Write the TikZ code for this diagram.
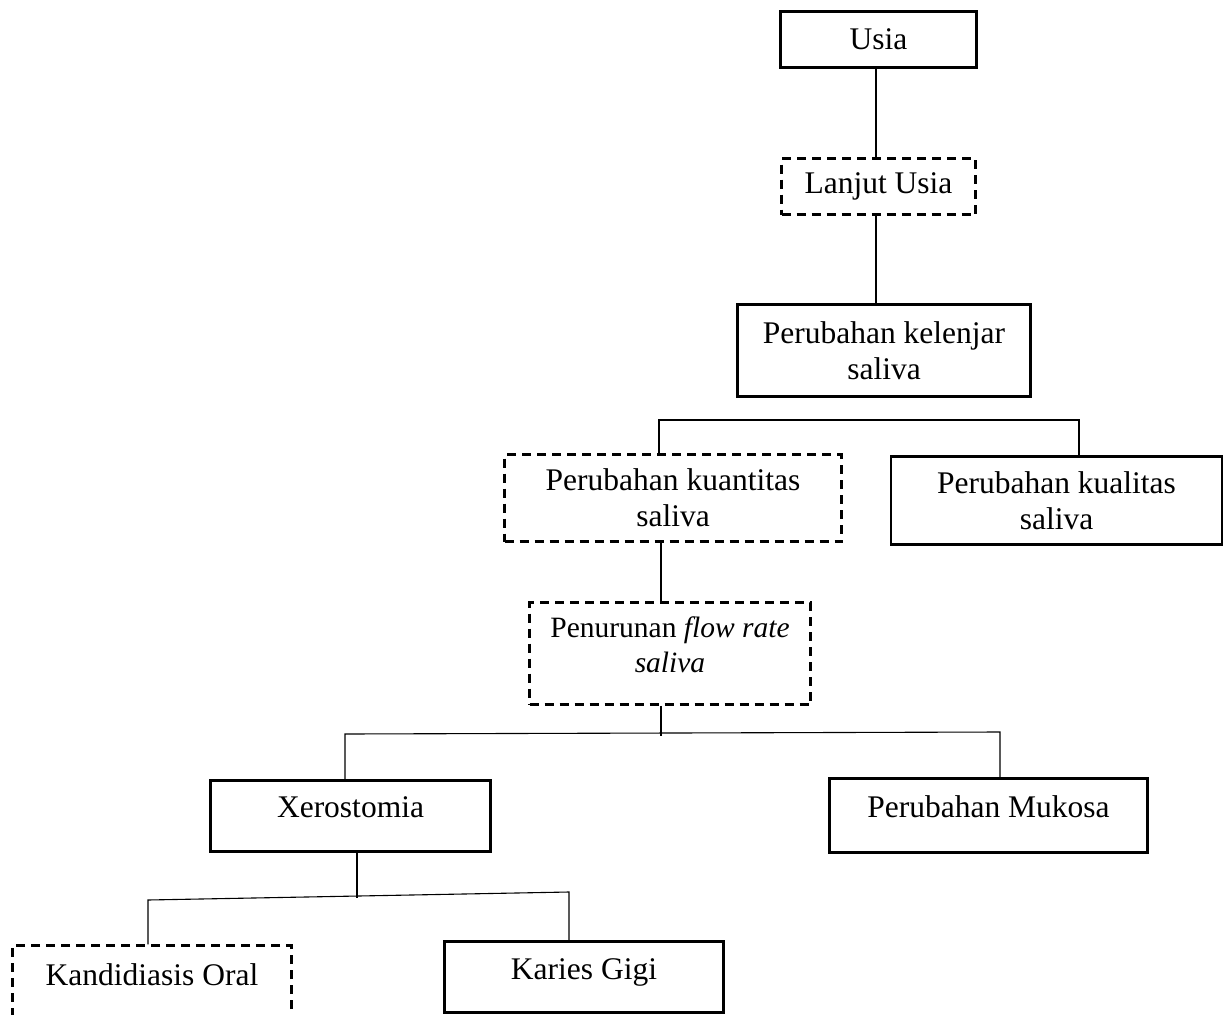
\documentclass[tikz,border=0pt]{standalone}
\usepackage{fontspec}
\setmainfont{Liberation Serif}
\begin{document}
\begin{tikzpicture}[x=1pt,y=-1pt,
  every node/.style={inner sep=0pt, align=center, font=\fontsize{31.5}{36}\selectfont},
  sbox/.style={draw, line width=2.8pt},
  dbox/.style={draw, line width=2.5pt, dash pattern=on 9pt off 6pt},
  conn/.style={line width=1.1pt}]
\useasboundingbox (0,0) rectangle (1224,1015);
\clip (0,0) rectangle (1224,1015);

% boxes
\node[sbox, minimum width=196pt, minimum height=56pt] (usia) at (878.5,39.5) {Usia};
\node[dbox, minimum width=194pt, minimum height=56pt] (lanjut) at (878.5,186.5) {Lanjut Usia};
\node[sbox, minimum width=293pt, minimum height=92pt] (kelenjar) at (884,350.5) {Perubahan kelenjar\\saliva};
\node[dbox, minimum width=337pt, minimum height=87pt] (kuantitas) at (673,498) {Perubahan kuantitas\\saliva};
\node[sbox, minimum width=331pt, minimum height=88pt] (kualitas) at (1056.5,500.5) {Perubahan kualitas\\saliva};
\node[dbox, minimum width=281pt, minimum height=102pt, text depth=18pt,
      font=\fontsize{29.5}{35}\selectfont] (penurunan) at (670,653.5) {Penurunan \textit{flow rate}\\\textit{saliva}};
\node[sbox, minimum width=280pt, minimum height=71pt, text depth=17.5pt] (xero) at (350.5,816) {Xerostomia};
\node[sbox, minimum width=318pt, minimum height=74pt, text depth=18.5pt] (mukosa) at (988.5,815.5) {Perubahan Mukosa};
\node[dbox, minimum width=279pt, text height=39.5pt, text depth=60pt, anchor=base] (kand) at (152,985) {Kandidiasis Oral};
\node[sbox, minimum width=279pt, minimum height=71pt, text depth=15.5pt] (karies) at (584,977) {Karies Gigi};

% junction coordinates
\coordinate (a1) at (876,0);
\coordinate (b1) at (659,420);
\coordinate (b2) at (1079,420);
\coordinate (k1) at (661,600);
\coordinate (j2) at (661,736);
\coordinate (b3) at (345,734);
\coordinate (b4) at (1000,732);
\coordinate (x1) at (357,897.5);
\coordinate (b5) at (148,900);
\coordinate (b6) at (569,892);

% connectors
\draw[conn] (usia.south -| a1) -- (lanjut.north -| a1);
\draw[conn] (lanjut.south -| a1) -- (kelenjar.north -| a1);
\draw[conn] (kuantitas.north -| b1) -- (b1) -- (b2) -- (kualitas.north -| b2);
\draw[conn] (kuantitas.south -| k1) -- (penurunan.north -| k1);
\draw[conn] (penurunan.south -| k1) -- (j2);
\draw[conn] (xero.north -| b3) -- (b3) -- (b4) -- (mukosa.north -| b4);
\draw[conn] (xero.south -| x1) -- (x1);
\draw[conn] (kand.north -| b5) -- (b5) -- (b6) -- (karies.north -| b6);
\end{tikzpicture}
\end{document}
